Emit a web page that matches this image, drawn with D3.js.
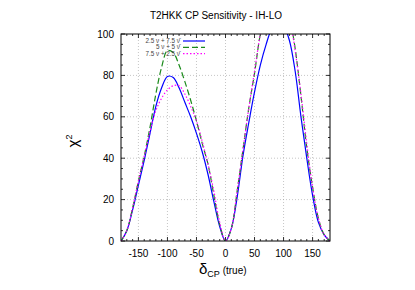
<!DOCTYPE html>
<html>
<head>
<meta charset="utf-8">
<script src="https://cdn.jsdelivr.net/npm/d3@7"></script>
<style>
  body { margin: 0; background: #fff; }
  text { font-family: "Liberation Sans", Arial, sans-serif; }
</style>
</head>
<body>
<div id="chart"></div>
<script>
// T2HKK CP sensitivity, IH-LO
const deltaCP = [-180,-170,-160,-150,-140,-130,-120,-110,-100,-90,-80,-70,-60,-50,-40,-30,-20,-10,
                 0,10,20,30,40,50,60,70,80,90,100,110,120,130,140,150,160,170,180];

const chiA = [0,5,15,27,39,52,65,74,79.5,79,74,67,60,52,43,32,19,7,
              0,6,21,41,57,72,85,95,103,107,104,97,82,60,40,22,9,3,0];    // 2.5 nu + 7.5 nubar
const chiB = [0,5,16,29,41,55,71,84,92,91,85,77,68,58,47,37,22,8,
              0,6,24,44,64,81,100,112,120,122,120,109,93,70,45,26,11,3,0]; // 5 nu + 5 nubar
const chiC = [0,5,16,29,41,53,63,69,73,75,75,71,65,58,48,37,24,9,
              0,6,24,44,64,82,100,113,121,123,120,109,92,71,47,26,11,3,0]; // 7.5 nu + 2.5 nubar

const seriesNames = ["2.5 \u03bd + 7.5 \u03bd\u0304", "5 \u03bd + 5 \u03bd\u0304", "7.5 \u03bd + 2.5 \u03bd\u0304"];
const xTicks = [-150,-100,-50,0,50,100,150];
const yTicks = [0,20,40,60,80,100];

const W = 415, H = 290;
const pL = 121, pR = 330, pT = 34, pB = 241;

const svg = d3.select("#chart").append("svg")
  .attr("width", W).attr("height", H)
  .style("display", "block");

const x = d3.scaleLinear().domain([-180, 180]).range([pL, pR]);
const y = d3.scaleLinear().domain([0, 100]).range([pB, pT]);

// grid
const grid = svg.append("g").attr("stroke", "#a0a0a0").attr("stroke-width", 0.6)
  .attr("stroke-dasharray", "1,2");
xTicks.forEach(t => grid.append("line")
  .attr("x1", x(t)).attr("x2", x(t)).attr("y1", pT).attr("y2", pB));
yTicks.filter(t => t > 0 && t < 100).forEach(t => grid.append("line")
  .attr("x1", pL).attr("x2", pR).attr("y1", y(t)).attr("y2", y(t)));

// ticks (inward, mirrored)
const xMinor = d3.range(-170, 180, 10).filter(t => t % 50 !== 0);
const yMinor = d3.range(5, 100, 5).filter(t => t % 20 !== 0);
const tk = svg.append("g").attr("stroke", "#000").attr("stroke-width", 0.8);
xTicks.forEach(t => {
  tk.append("line").attr("x1", x(t)).attr("x2", x(t)).attr("y1", pB).attr("y2", pB - 4);
  tk.append("line").attr("x1", x(t)).attr("x2", x(t)).attr("y1", pT).attr("y2", pT + 4);
});
xMinor.forEach(t => {
  tk.append("line").attr("x1", x(t)).attr("x2", x(t)).attr("y1", pB).attr("y2", pB - 2);
  tk.append("line").attr("x1", x(t)).attr("x2", x(t)).attr("y1", pT).attr("y2", pT + 2);
});
yTicks.forEach(t => {
  tk.append("line").attr("x1", pL).attr("x2", pL + 4).attr("y1", y(t)).attr("y2", y(t));
  tk.append("line").attr("x1", pR).attr("x2", pR - 4).attr("y1", y(t)).attr("y2", y(t));
});
yMinor.forEach(t => {
  tk.append("line").attr("x1", pL).attr("x2", pL + 2).attr("y1", y(t)).attr("y2", y(t));
  tk.append("line").attr("x1", pR).attr("x2", pR - 2).attr("y1", y(t)).attr("y2", y(t));
});

// tick labels
svg.append("g").selectAll("text").data(xTicks).join("text")
  .attr("x", d => x(d)).attr("y", pB + 16)
  .attr("text-anchor", "middle").attr("font-size", 10)
  .text(d => d);
svg.append("g").selectAll("text").data(yTicks).join("text")
  .attr("x", pL - 7).attr("y", d => y(d) + 3.5)
  .attr("text-anchor", "end").attr("font-size", 10)
  .text(d => d);

// curves
svg.append("clipPath").attr("id", "clip").append("rect")
  .attr("x", pL).attr("y", pT).attr("width", pR - pL).attr("height", pB - pT);

const line = d3.line().curve(d3.curveCatmullRom)
  .x((d, i) => x(deltaCP[i])).y(d => y(d));

const styles = [
  { data: chiA, color: "#0000ff", dash: null },
  { data: chiB, color: "#1a8a1a", dash: "6,3" },
  { data: chiC, color: "#ff00ff", dash: "1.5,2" }
];
const curves = svg.append("g").attr("clip-path", "url(#clip)");
styles.forEach(s => curves.append("path")
  .attr("d", line(s.data))
  .attr("fill", "none")
  .attr("stroke", s.color)
  .attr("stroke-width", 1.2)
  .attr("stroke-dasharray", s.dash));

// frame
svg.append("rect").attr("x", pL).attr("y", pT)
  .attr("width", pR - pL).attr("height", pB - pT)
  .attr("fill", "none").attr("stroke", "#000").attr("stroke-width", 1);

// legend
const lg = svg.append("g");
styles.forEach((s, i) => {
  const ly = 41 + i * 6.3;
  lg.append("text").attr("x", 180).attr("y", ly + 2)
    .attr("text-anchor", "end").attr("font-size", 6.3).attr("fill", "#444")
    .text(seriesNames[i]);
  lg.append("line").attr("x1", 183).attr("x2", 205).attr("y1", ly).attr("y2", ly)
    .attr("stroke", s.color).attr("stroke-width", 1.2)
    .attr("stroke-dasharray", s.dash);
});

// title and axis labels
svg.append("text").attr("x", 216).attr("y", 19)
  .attr("text-anchor", "middle").attr("font-size", 10)
  .text("T2HKK CP Sensitivity - IH-LO");

const yl = svg.append("text").attr("transform", "translate(78,141) rotate(-90)")
  .attr("text-anchor", "middle").attr("font-size", 15);
yl.append("tspan").text("\u03c7");
yl.append("tspan").attr("font-size", 9).attr("dy", -6).text("2");

const xl = svg.append("text").attr("x", 199).attr("y", 274).attr("font-size", 15);
xl.append("tspan").text("\u03b4");
xl.append("tspan").attr("font-size", 9).attr("dy", 3).text("CP");
xl.append("tspan").attr("font-size", 10).attr("dy", -3).text(" (true)");
</script>
</body>
</html>
